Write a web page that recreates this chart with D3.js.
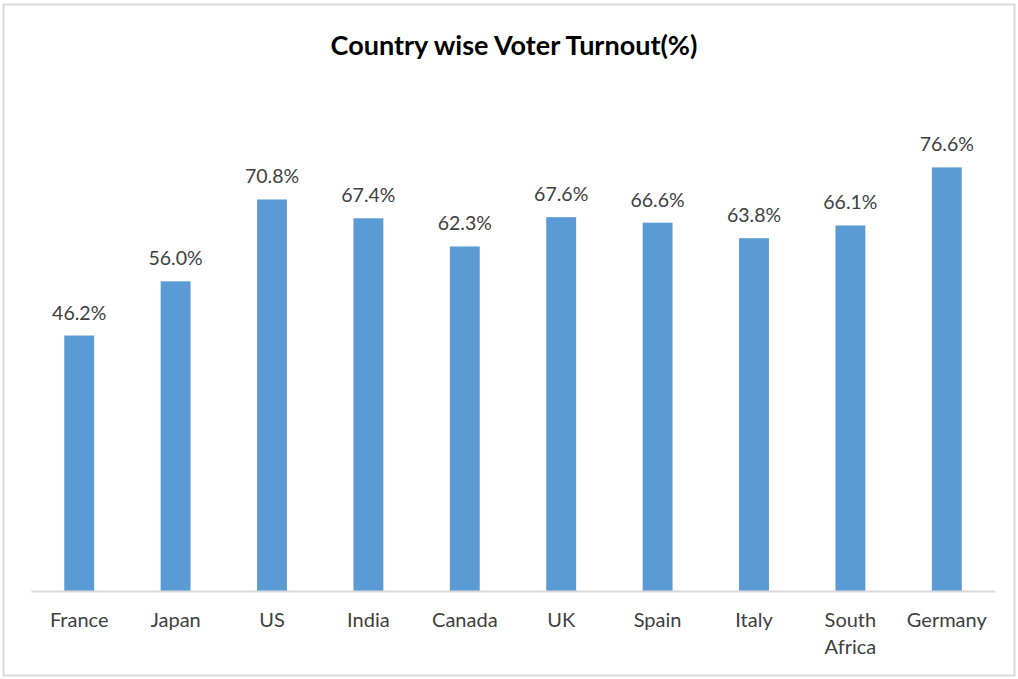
<!DOCTYPE html>
<html><head><meta charset="utf-8">
<script src="https://cdn.jsdelivr.net/npm/d3@7"></script>
<style>body{margin:0;background:#fff;} text{font-family:Lato, "Open Sans", sans-serif;}</style>
</head><body>
<svg id="c" width="1018" height="679"></svg>
<script>
const categories = ["France","Japan","US","India","Canada","UK","Spain","Italy","South Africa","Germany"];
const turnout = [46.2,56.0,70.8,67.4,62.3,67.6,66.6,63.8,66.1,76.6];
const yDomain = [0,80];

const svg = d3.select("#c");
svg.append("rect").attr("x",3.5).attr("y",4.5).attr("width",1011).attr("height",671)
  .attr("fill","#fff").attr("stroke","#d9d9d9").attr("stroke-width",2);

svg.append("text").attr("x",514).attr("y",55).attr("text-anchor","middle")
  .attr("font-size",27).attr("font-weight","bold").attr("fill","#000")
  .text("Country wise Voter Turnout(%)");

const x = d3.scaleBand().domain(categories).range([31,995]).paddingInner(0.69).paddingOuter(0.345);
const y = d3.scaleLinear().domain(yDomain).range([591,148.6]);

svg.selectAll("rect.bar").data(categories).enter().append("rect").attr("class","bar")
  .attr("x",d=>x(d)).attr("width",x.bandwidth())
  .attr("y",(d,i)=>y(turnout[i])).attr("height",(d,i)=>y(0)-y(turnout[i]))
  .attr("fill","#5b9bd5");

svg.selectAll("text.val").data(categories).enter().append("text").attr("class","val")
  .attr("x",d=>x(d)+x.bandwidth()/2).attr("y",(d,i)=>y(turnout[i])-16)
  .attr("text-anchor","middle").attr("font-size",19.5).attr("fill","#404040")
  .text((d,i)=>turnout[i].toFixed(1)+"%");

const ax = d3.axisBottom(x).tickSize(0).tickPadding(0);
const g = svg.append("g").attr("transform","translate(0,591)").call(ax);
g.select(".domain").attr("stroke","#d9d9d9").attr("stroke-width",2);
g.selectAll(".tick text").remove();
g.selectAll(".tick").each(function(d){
  const words = d.split(" ");
  const t = d3.select(this).append("text").attr("text-anchor","middle").attr("fill","#404040")
    .attr("font-size",20).style("font-family","Lato, 'Open Sans', sans-serif");
  words.forEach((w,i)=>t.append("tspan").attr("x",0).attr("y",36+i*27).text(w));
});
</script>
</body></html>
